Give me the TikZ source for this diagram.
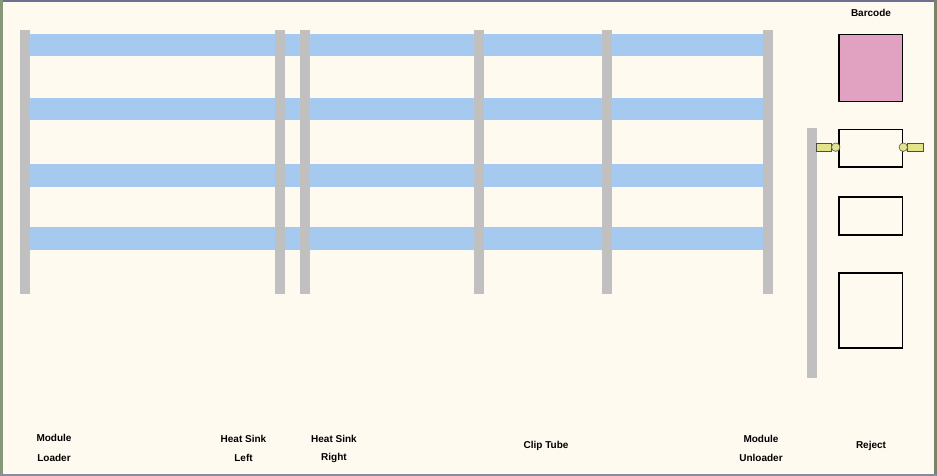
\documentclass[tikz,border=0pt]{standalone}
\usepackage{fontspec}
\setmainfont{Liberation Sans}
\definecolor{bgc}{HTML}{FFFAF0}
\definecolor{bandc}{HTML}{A6C9EF}
\definecolor{postc}{HTML}{C0C0C0}
\definecolor{pinkc}{HTML}{E0A2C0}
\definecolor{tabc}{HTML}{E3E38A}
\definecolor{topc}{HTML}{6E6E90}
\definecolor{leftc}{HTML}{869878}
\definecolor{rightc}{HTML}{808066}
\definecolor{botc}{HTML}{8A8AA0}
\begin{document}
\begin{tikzpicture}[x=1pt,y=-1pt,
  band/.style={fill=bandc,draw=none},
  post/.style={fill=postc,draw=none},
  slot/.style={draw=black,line width=1.2pt},
  lbl/.style={font=\fontsize{10}{12}\selectfont\bfseries,inner sep=0pt,align=center},
  tab/.style={fill=tabc,draw=black!70,line width=0.7pt},
  pin/.style={circle,fill=tabc,draw=black!60,line width=0.7pt,minimum size=8.5pt,inner sep=0pt}]
\useasboundingbox (0,0) rectangle (937,476);
\fill[bgc] (0,0) rectangle (937,476);
% frame
\fill[topc] (0,0) rectangle (937,2);
\fill[leftc] (0,0) rectangle (3,476);
\fill[rightc] (934,0) rectangle (937,476);
\fill[botc] (0,474) rectangle (937,476);
% bands
\foreach \y in {34,98,164,227}{
  \fill[band] (30,\y) rectangle (763,\y+22.5);
}
% posts
\foreach \x in {20,275,300,474,602,763}{
  \fill[post] (\x,30) rectangle (\x+10,294);
}
\fill[post] (807,128) rectangle (817,378);
% right stations
\node[slot,fill=pinkc,anchor=north west,minimum width=63.5pt,minimum height=67pt,inner sep=0pt] (bc) at (838.3,34.3) {};
\node[slot,anchor=north west,minimum width=63.5pt,minimum height=37.3pt,inner sep=0pt] (s1) at (838.3,129) {};
\node[slot,anchor=north west,minimum width=63.5pt,minimum height=38pt,inner sep=0pt] (s2) at (838.3,196.3) {};
\node[slot,anchor=north west,minimum width=63.5pt,minimum height=75pt,inner sep=0pt] (rj) at (838.3,272.3) {};
% tabs
\node[tab,anchor=east,minimum width=15.5pt,minimum height=7.7pt,inner sep=0pt] (tl) at (832,147.2) {};
\node[pin] (pl) at (835.7,147.2) {};
\node[tab,anchor=west,minimum width=15.5pt,minimum height=7.7pt,inner sep=0pt] (tr) at (907,147.2) {};
\node[pin] (pr) at (903.3,147.2) {};
% labels
\node[lbl] (barcode) at (871,13) {Barcode};
\node[lbl] (ml1) at (54,438) {Module};
\node[lbl] (ml2) at (54,458) {Loader};
\node[lbl] (hl1) at (243.5,439) {Heat Sink};
\node[lbl] (hl2) at (243.5,458) {Left};
\node[lbl] (hr1) at (334,439) {Heat Sink};
\node[lbl] (hr2) at (334,458) {Right};
\node[lbl] (ct) at (546,446) {Clip Tube};
\node[lbl] (mu1) at (761,439) {Module};
\node[lbl] (mu2) at (761,458) {Unloader};
\node[lbl] (rej) at (871,446) {Reject};
\end{tikzpicture}
\end{document}
